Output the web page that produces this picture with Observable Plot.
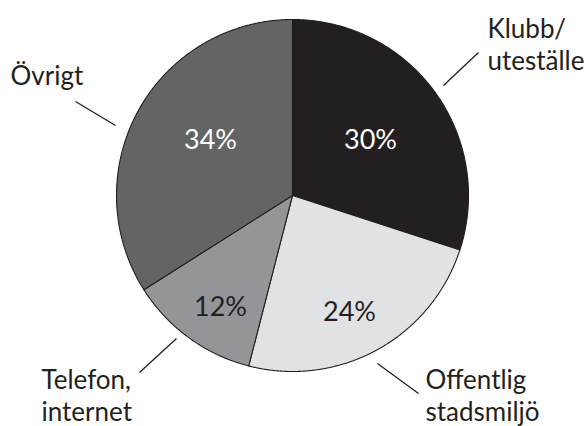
<!DOCTYPE html>
<html>
<head>
<meta charset="utf-8">
<script src="https://cdn.jsdelivr.net/npm/d3@7"></script>
<script src="https://cdn.jsdelivr.net/npm/@observablehq/plot@0.6"></script>
<style>
  html, body { margin: 0; padding: 0; background: #fff; }
  #chart svg { display: block; }
</style>
</head>
<body>
<div id="chart"></div>
<script>
// ---- data ----
const categories = ["Klubb/uteställe", "Offentlig stadsmiljö", "Telefon, internet", "Övrigt"];
const shares = [30, 24, 12, 34];
const displayLabels = ["Klubb/\nuteställe", "Offentlig\nstadsmiljö", "Telefon,\ninternet", "Övrigt"];
const sliceColors = ["#231f20", "#e1e2e3", "#939598", "#636466"];
const valueTextColors = ["#ffffff", "#231f20", "#231f20", "#ffffff"];

// ---- layout (pixels) ----
const W = 586, H = 426;
const cx = 292, cy = 195, R = 176;
const FONT = "Lato, 'Open Sans', sans-serif";
const INK = "#231f20";
// percentage label placement (center x, baseline y)
const valuePos = [[370, 148], [349, 320], [220, 315], [210, 148]];
// outer label placement (left x, last baseline y)
const namePos = [[487, 69], [425, 420], [41, 420], [10, 84]];
// leader lines
const leaderPos = [[443, 85, 478, 52], [377, 363, 418, 393], [139, 372, 176, 338], [75, 101, 115, 125]];

const rows = categories.map((c, i) => ({category: c, value: shares[i], label: displayLabels[i], i}));

const arcs = d3.pie().sort(null).value(d => d.value)(rows);
const step = 0.005;
const slicePts = [];
for (const a of arcs) {
  const cat = a.data.category;
  slicePts.push({category: cat, x: cx, y: cy});
  const n = Math.max(2, Math.ceil((a.endAngle - a.startAngle) / step));
  for (let k = 0; k <= n; k++) {
    const t = a.startAngle + (a.endAngle - a.startAngle) * k / n;
    slicePts.push({category: cat, x: cx + R * Math.sin(t), y: cy - R * Math.cos(t)});
  }
}

const valueRows = rows.map(d => ({...d, px: valuePos[d.i][0], py: valuePos[d.i][1], text: `${d.value}%`, tc: valueTextColors[d.i]}));
const nameRows = rows.map(d => ({...d, px: namePos[d.i][0], py: namePos[d.i][1]}));
const leaderRows = rows.map(d => ({...d, x1: leaderPos[d.i][0], y1: leaderPos[d.i][1], x2: leaderPos[d.i][2], y2: leaderPos[d.i][3]}));

const chart = Plot.plot({
  width: W,
  height: H,
  margin: 0,
  x: {domain: [0, W], range: [0, W], axis: null},
  y: {domain: [0, H], range: [0, H], axis: null},
  color: {domain: categories, range: sliceColors},
  style: {fontFamily: FONT, background: "#fff"},
  marks: [
    Plot.line(slicePts, {x: "x", y: "y", z: "category", fill: "category", stroke: INK, strokeWidth: 1.1, curve: "linear-closed", strokeLinejoin: "round"}),
    Plot.link(leaderRows, {x1: "x1", y1: "y1", x2: "x2", y2: "y2", stroke: INK, strokeWidth: 1.3}),
    Plot.text(valueRows, {x: "px", y: "py", text: "text", fill: "tc", fontSize: 27, fontWeight: 400, textAnchor: "middle", lineAnchor: "bottom", fontFamily: FONT}),
    Plot.text(nameRows, {x: "px", y: "py", text: "label", fill: INK, fontSize: 26, fontWeight: 400, textAnchor: "start", lineAnchor: "bottom", lineHeight: 1.23, fontFamily: FONT})
  ]
});
document.getElementById("chart").append(chart);
</script>
</body>
</html>
